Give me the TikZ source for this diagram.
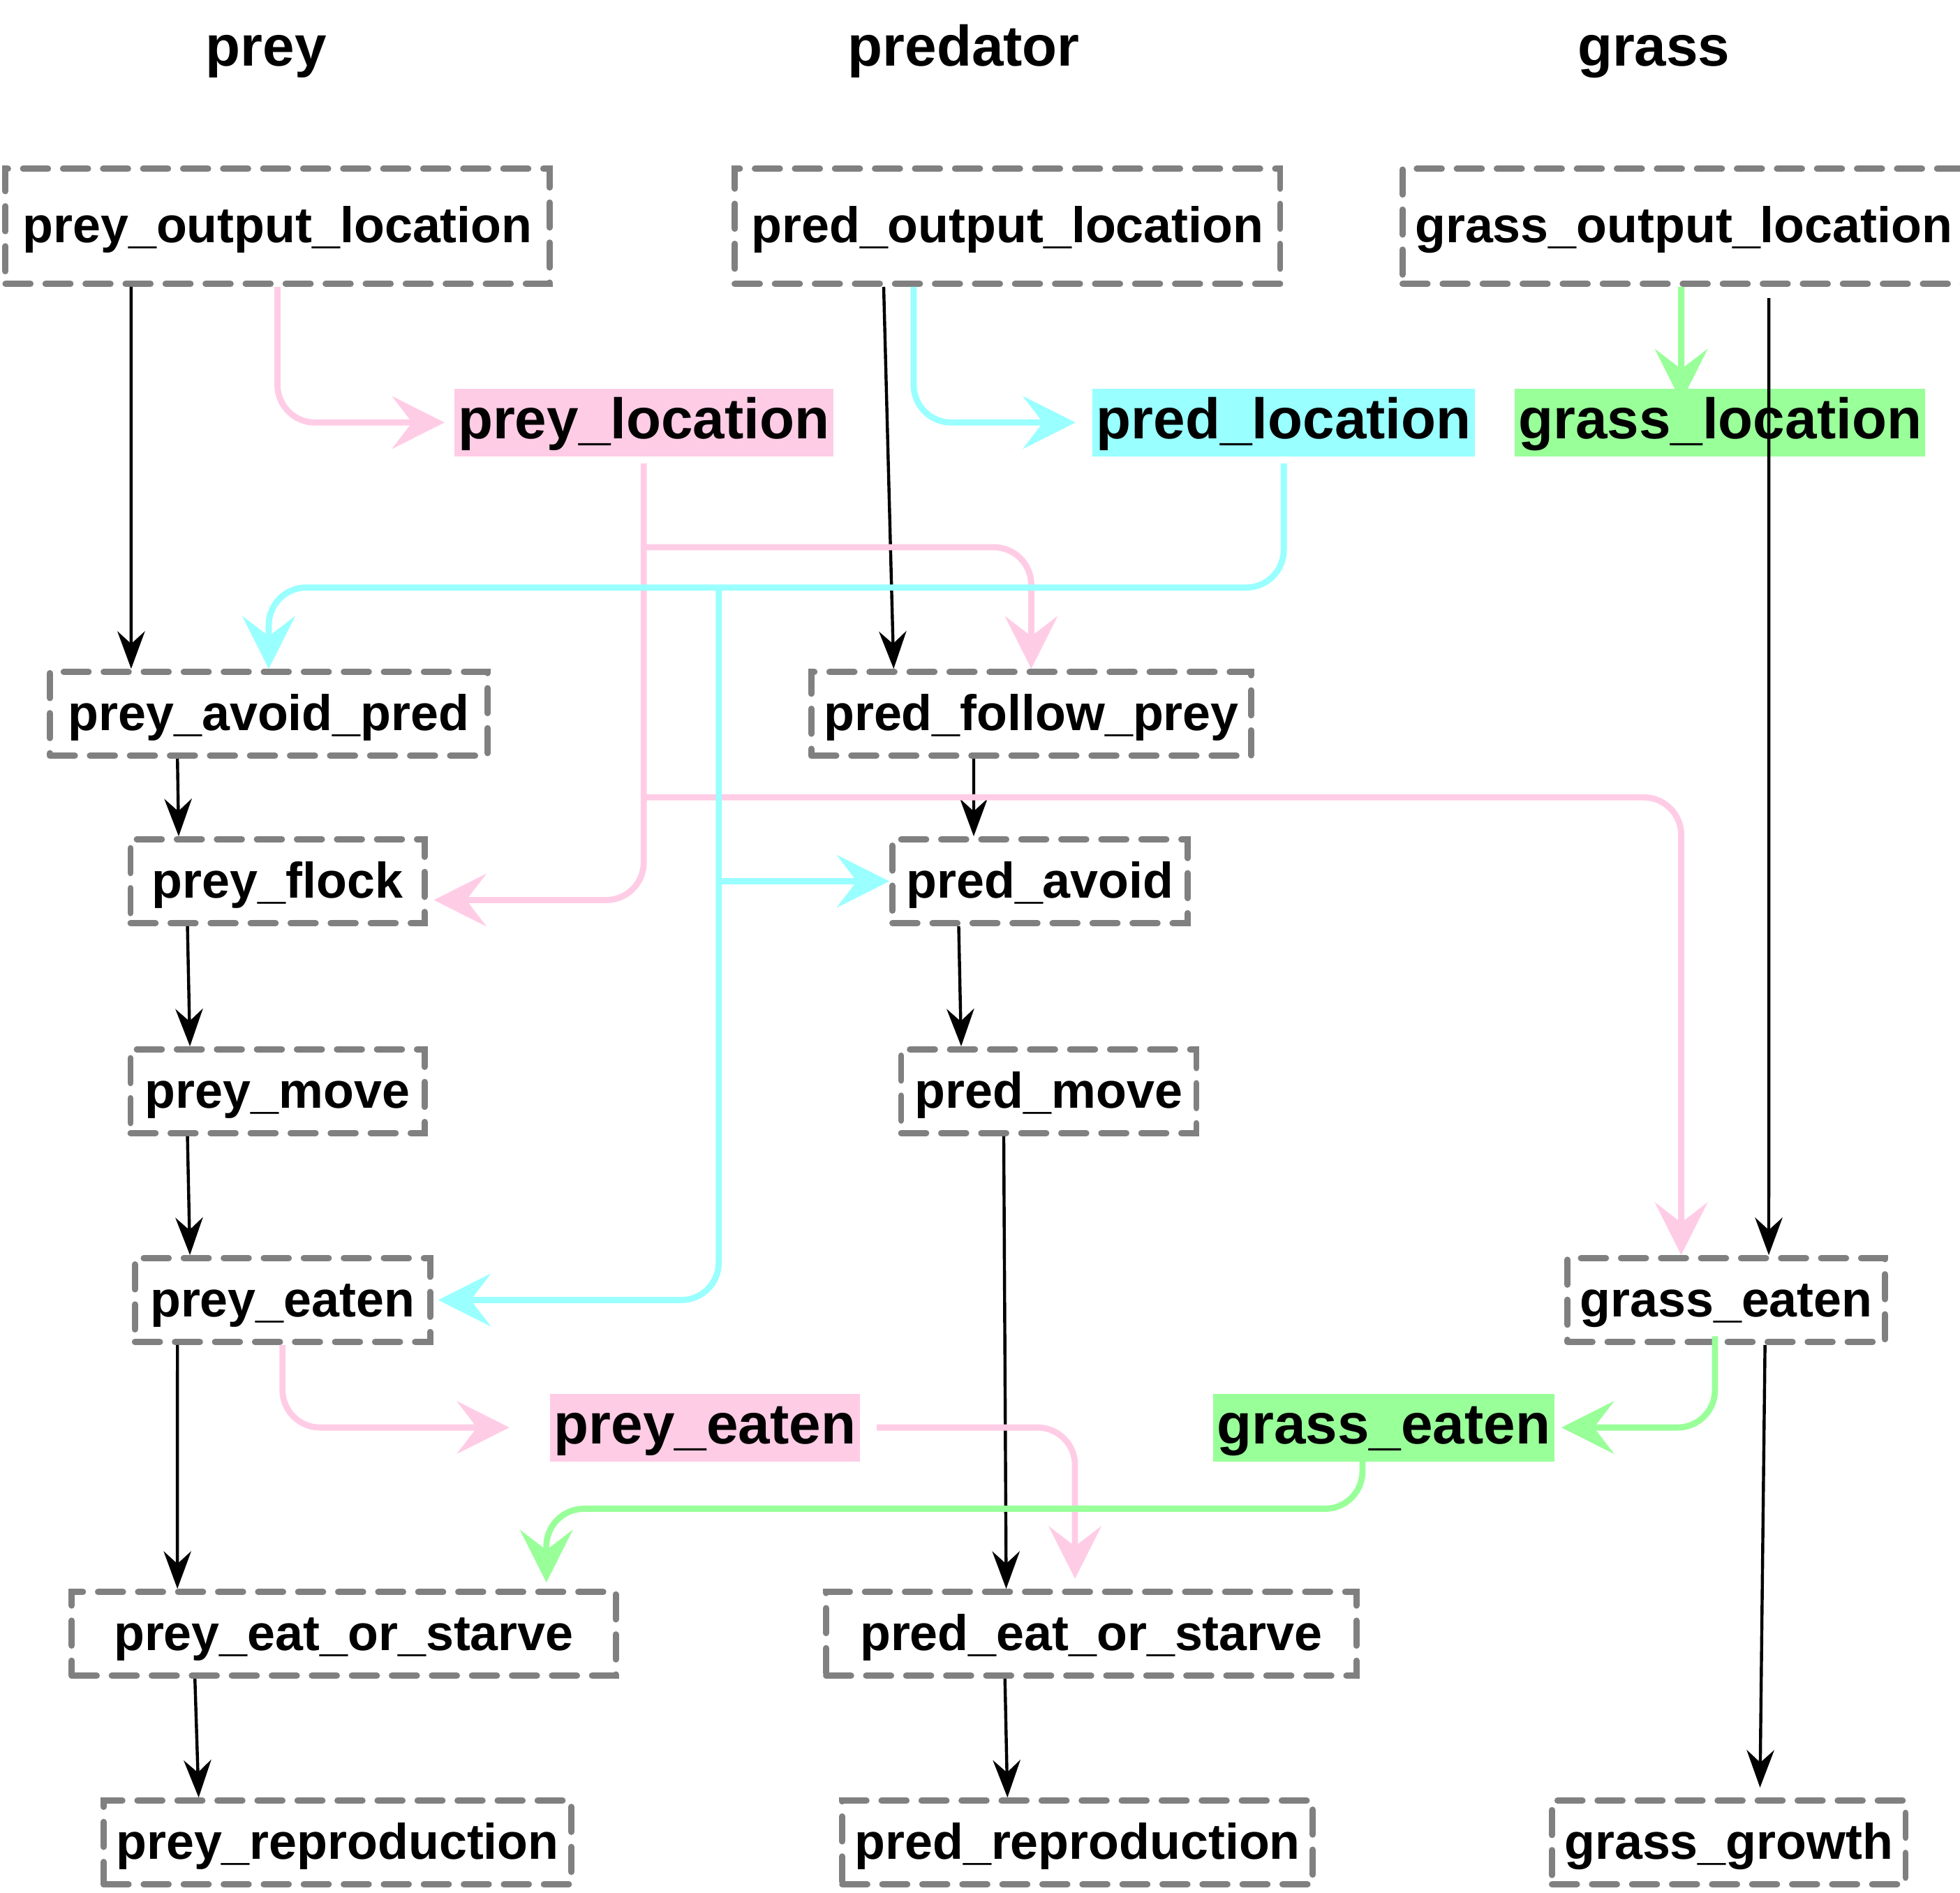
\documentclass[tikz,border=0pt]{standalone}
\usepackage{fontspec}
\setmainfont{Liberation Sans}
\usetikzlibrary{arrows.meta}
\definecolor{preypink}{HTML}{FFCCE6}
\definecolor{predcyan}{HTML}{99FFFF}
\definecolor{grassgreen}{HTML}{99FF99}
\definecolor{boxgrey}{HTML}{808080}
\tikzset{
  fnbox/.style={draw=boxgrey, line width=1.4pt, dash pattern=on 0.2cm off 0.12cm,
    line cap=round, inner xsep=0.1cm, minimum height=0.67cm,
    text height=0.95em, text depth=0.2em,
    font=\bfseries\fontsize{11.4}{13}\selectfont},
  topbox/.style={fnbox, minimum height=0.92cm},
  msg/.style={inner xsep=0.03cm, inner ysep=0cm, minimum height=0.54cm,
    text height=0.95em, text depth=0.21em,
    font=\bfseries\fontsize{13}{15}\selectfont},
  head/.style={text height=0.75em, text depth=0.25em,
    font=\bfseries\fontsize{13}{15}\selectfont},
  blackarr/.style={line width=0.7pt, -{Stealth[length=0.3cm,width=0.22cm,inset=0.1cm]}},
  colarr/.style={line width=1.4pt, rounded corners=0.3cm,
    -{Stealth[length=0.42cm,width=0.42cm,inset=0.16cm]}},
  pinkarr/.style={colarr, draw=preypink},
  cyanarr/.style={colarr, draw=predcyan},
  greenarr/.style={colarr, draw=grassgreen}
}
\begin{document}
\begin{tikzpicture}[x=0.01cm,y=-0.01cm]
  \useasboundingbox (0,0) rectangle (1568,1514);
  % column heads
  \node[head] (hprey) at (213,44) {prey};
  \node[head] (hpred) at (771,44) {predator};
  \node[head] (hgrass) at (1323,44) {grass};
  % function boxes
  \node[topbox, minimum width=4.35cm] (preyout) at (222,181) {prey\_output\_location};
  \node[topbox, minimum width=4.36cm] (predout) at (806,181) {pred\_output\_location};
  \node[topbox, minimum width=4.35cm] (grassout) at (1347,181) {grass\_output\_location};
  \node[fnbox, minimum width=3.50cm] (avoidpred) at (215,571) {prey\_avoid\_pred};
  \node[fnbox, minimum width=3.50cm] (follow) at (825,571) {pred\_follow\_prey};
  \node[fnbox, minimum width=2.35cm] (flock) at (222,705) {prey\_flock};
  \node[fnbox, minimum width=2.36cm] (predavoid) at (832,705) {pred\_avoid};
  \node[fnbox, minimum width=2.35cm] (preymove) at (222,873) {prey\_move};
  \node[fnbox, minimum width=2.36cm] (predmove) at (839,873) {pred\_move};
  \node[fnbox, minimum width=2.36cm] (preyeatbox) at (226,1040) {prey\_eaten};
  \node[fnbox, minimum width=2.38cm] (grasseatbox) at (1381,1040) {grass\_eaten};
  \node[fnbox, minimum width=4.35cm] (preyeos) at (275,1307) {prey\_eat\_or\_starve};
  \node[fnbox, minimum width=4.24cm] (predeos) at (873,1307) {pred\_eat\_or\_starve};
  \node[fnbox, minimum width=3.70cm] (preyrep) at (270,1474) {prey\_reproduction};
  \node[fnbox, minimum width=3.70cm] (predrep) at (862,1474) {pred\_reproduction};
  \node[fnbox, minimum width=2.80cm] (grassgrow) at (1383,1474) {grass\_growth};
  % messages
  \node[msg, fill=preypink] (preyloc) at (515,338) {prey\_location};
  \node[msg, fill=predcyan] (predloc) at (1027,338) {pred\_location};
  \node[msg, fill=grassgreen] (grassloc) at (1376,338) {grass\_location};
  \node[msg, fill=preypink] (preyeatlab) at (564,1142) {prey\_eaten};
  \node[msg, fill=grassgreen] (grasseatlab) at (1107,1142) {grass\_eaten};
  % branch points
  \coordinate (pinkA) at ([yshift=-0.72cm]preyloc.south);
  \coordinate (pinkB) at ([yshift=-2.72cm]preyloc.south);
  \coordinate (cyanA) at (575,470);
  \coordinate (greenA) at (760,1207);
  % function order
  \draw[blackarr] ([xshift=-1.17cm]preyout.south) -- ([xshift=-1.10cm]avoidpred.north);
  \draw[blackarr] ([xshift=-0.99cm]predout.south) -- ([xshift=-1.10cm]follow.north);
  \draw[blackarr] ([xshift=0.68cm,yshift=-0.09cm]grassout.south) -- ([xshift=0.34cm]grasseatbox.north);
  \draw[blackarr] ([xshift=-0.73cm]avoidpred.south) -- ([xshift=-0.79cm]flock.north);
  \draw[blackarr] ([xshift=-0.46cm]follow.south) -- ([xshift=-0.53cm]predavoid.north);
  \draw[blackarr] ([xshift=-0.72cm]flock.south) -- ([xshift=-0.70cm]preymove.north);
  \draw[blackarr] ([xshift=-0.65cm]predavoid.south) -- ([xshift=-0.70cm]predmove.north);
  \draw[blackarr] ([xshift=-0.72cm]preymove.south) -- ([xshift=-0.74cm]preyeatbox.north);
  \draw[blackarr] ([xshift=-0.36cm]predmove.south) -- ([xshift=-0.68cm]predeos.north);
  \draw[blackarr] ([xshift=-0.84cm]preyeatbox.south) -- ([xshift=-1.33cm]preyeos.north);
  \draw[blackarr] ([xshift=-1.19cm]preyeos.south) -- ([xshift=-1.11cm]preyrep.north);
  \draw[blackarr] ([xshift=-0.69cm]predeos.south) -- ([xshift=-0.56cm]predrep.north);
  \draw[blackarr] ([xshift=0.31cm]grasseatbox.south) -- ([xshift=0.25cm,yshift=0.08cm]grassgrow.north);
  % prey messages
  \draw[pinkarr] (preyout.south) |- ([xshift=-0.07cm]preyloc.west);
  \draw[pinkarr] ([yshift=-0.05cm]preyloc.south) |- ([xshift=0.05cm,yshift=-0.15cm]flock.east);
  \draw[pinkarr] (pinkA) -| (follow.north);
  \draw[pinkarr] (pinkB) -| ([xshift=-0.36cm]grasseatbox.north);
  \draw[pinkarr] (preyeatbox.south) |- ([xshift=-0.32cm]preyeatlab.west);
  \draw[pinkarr] ([xshift=0.13cm]preyeatlab.east) -| ([xshift=-0.13cm,yshift=0.08cm]predeos.north);
  % predator messages
  \draw[cyanarr] ([xshift=-0.75cm]predout.south) |- ([xshift=-0.13cm]predloc.west);
  \draw[cyanarr] ([yshift=-0.05cm]predloc.south) |- (cyanA) -| (avoidpred.north);
  \draw[cyanarr] (cyanA) |- ([xshift=0.04cm]preyeatbox.east);
  \draw[cyanarr] (cyanA |- predavoid.west) -- (predavoid.west);
  % grass messages
  \draw[greenarr] ([xshift=-0.02cm]grassout.south) -- ([xshift=-0.31cm,yshift=-0.11cm]grassloc.north);
  \draw[greenarr] ([xshift=-0.09cm,yshift=0.07cm]grasseatbox.south) |- ([xshift=0.05cm]grasseatlab.east);
  \draw[greenarr] ([xshift=-0.17cm,yshift=0.14cm]grasseatlab.south) |- (greenA) -| ([xshift=1.62cm,yshift=0.05cm]preyeos.north);
\end{tikzpicture}
\end{document}
